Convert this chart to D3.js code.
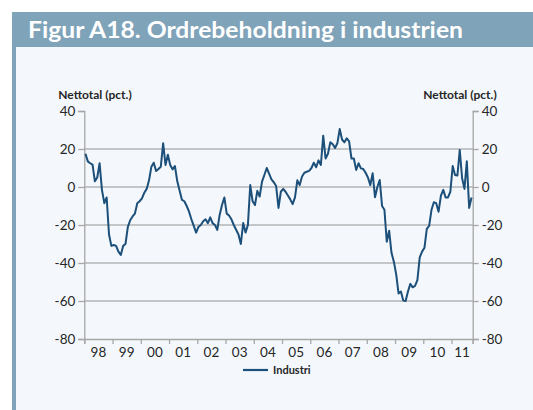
<!DOCTYPE html>
<html>
<head>
<meta charset="utf-8">
<script src="https://cdn.jsdelivr.net/npm/d3@7"></script>
<style>
  html, body { margin: 0; padding: 0; background: #ffffff; }
  svg { display: block; }
</style>
</head>
<body>
<svg id="chart" width="533" height="410"></svg>
<script>
// Ordrebeholdning i industrien, nettotal (pct.), monthly from January 1998
const startYear = 1998;
const yearLabels = ["98","99","00","01","02","03","04","05","06","07","08","09","10","11"];
const yTicks = [-80, -60, -40, -20, 0, 20, 40];
const seriesName = "Industri";
const industri = [
  17.5, 13.5, 12.5, 11.8, 3, 5, 12.5, -1.5, -8.5, -5.5, -25, -31,
  -30.5, -31, -34, -35.8, -31, -30, -21, -17.5, -15.5, -14, -8.6, -7.5,
  -6, -3, -1, 3.5, 10.7, 12.8, 8.4, 9.5, 10.7, 23, 11.6, 17,
  11.6, 9.3, 11, 3, -2, -6.8, -7.5, -10, -13, -17, -20.5, -24,
  -21, -20, -18, -17, -19, -16, -19, -20, -22.6, -14.7, -9.5, -5.5,
  -14, -15, -17, -20, -22.5, -25, -30, -19, -24, -20, 1, -7.5,
  -9.5, -2, -5, 2.8, 6.3, 10, 7, 4, 2.5, 0.5, -11, -2.5,
  -1, -2.5, -4.5, -6.5, -9, -5.5, 3.5, 1, 5.5, 7.5, 8, 8.5,
  10, 12.8, 10.4, 14, 11.6, 27, 15, 17.5, 23.5, 22.6, 20.5, 23,
  30.5, 25, 23.5, 25.6, 24, 15, 15, 9, 12.5, 9.8, 9.5, 7.5,
  5, 1, 7.2, -5.4, 0, 3.7, -10, -12, -28.8, -23, -34.6, -39.3,
  -46, -56, -55, -59.8, -60, -55, -51, -52.8, -52, -49, -37, -34,
  -32, -22, -20.5, -12, -8, -8.5, -13, -4.5, -1.5, -5.5, -5.5, -2.5,
  11, 6.3, 6, 19.5, 4.6, -1, 13.5, -11, -5.5
];

const svg = d3.select("#chart");
const W = 533, H = 410;
const font = "Lato, 'Open Sans', sans-serif";
const textCol = "#262626";

// frame: title band, left strip and light panel
svg.append("rect").attr("x", 0).attr("y", 0).attr("width", W).attr("height", H).attr("fill", "#ffffff");
svg.append("rect").attr("x", 12).attr("y", 47).attr("width", W - 12).attr("height", H - 47).attr("fill", "#f4f8fc");
svg.append("rect").attr("x", 12).attr("y", 12).attr("width", W - 12).attr("height", 35).attr("fill", "#7fa3b9");
svg.append("rect").attr("x", 12).attr("y", 47).attr("width", 4).attr("height", H - 47).attr("fill", "#7fa3b9");
svg.append("text")
  .attr("x", 28).attr("y", 38)
  .attr("fill", "#ffffff")
  .attr("font-family", font)
  .attr("font-weight", "bold")
  .attr("font-size", 22)
  .attr("textLength", 435)
  .attr("lengthAdjust", "spacingAndGlyphs")
  .text("Figur A18. Ordrebeholdning i industrien");

// plot geometry
const plotLeft = 84.3, plotRight = 472.7, plotTop = 111, plotBottom = 339;
const nMonths = industri.length;
const x = d3.scaleLinear().domain([0, nMonths]).range([plotLeft, plotRight]);
const y = d3.scaleLinear().domain([-80, 40]).range([plotBottom, plotTop]);
const fmt = d => String(d); // plain hyphen-minus for negatives

// gridlines
svg.append("g")
  .selectAll("line")
  .data(yTicks.filter(v => v > -80 && v < 40))
  .join("line")
  .attr("x1", plotLeft).attr("x2", plotRight)
  .attr("y1", d => y(d)).attr("y2", d => y(d))
  .attr("stroke", "#b5b5b5").attr("stroke-width", 1.3);

// left axis
const yAxisL = svg.append("g")
  .attr("transform", `translate(${plotLeft},0)`)
  .call(d3.axisLeft(y).tickValues(yTicks).tickSize(6).tickPadding(3).tickFormat(fmt));
// right axis
const yAxisR = svg.append("g")
  .attr("transform", `translate(${plotRight},0)`)
  .call(d3.axisRight(y).tickValues(yTicks).tickSize(6).tickPadding(3).tickFormat(fmt));
[yAxisL, yAxisR].forEach(g => {
  g.select(".domain").attr("stroke", "#a6a6a6").attr("stroke-width", 1.3);
  g.selectAll(".tick line").attr("stroke", "#a6a6a6").attr("stroke-width", 1.3);
  g.selectAll(".tick text")
    .attr("font-family", font).attr("font-size", 13.5).attr("fill", textCol);
});

// bottom axis: ticks at year boundaries, labels centred in each year
const yearBounds = d3.range(0, nMonths, 12).concat([nMonths]);
const xAxis = svg.append("g")
  .attr("transform", `translate(0,${plotBottom})`)
  .call(d3.axisBottom(x).tickValues(yearBounds).tickSize(5).tickFormat(""));
xAxis.select(".domain").attr("stroke", "#a6a6a6").attr("stroke-width", 1.3);
xAxis.selectAll(".tick line").attr("stroke", "#a6a6a6").attr("stroke-width", 1.3);

svg.append("g")
  .selectAll("text")
  .data(yearLabels)
  .join("text")
  .attr("x", (d, i) => x((i * 12 + Math.min(i * 12 + 12, nMonths)) / 2))
  .attr("y", plotBottom + 18)
  .attr("text-anchor", "middle")
  .attr("font-family", font).attr("font-size", 13.5).attr("fill", textCol)
  .text(d => d);

// axis titles
svg.append("text")
  .attr("x", 95).attr("y", 99).attr("text-anchor", "middle")
  .attr("font-family", font).attr("font-weight", "bold").attr("font-size", 12).attr("fill", textCol)
  .text("Nettotal (pct.)");
svg.append("text")
  .attr("x", 460).attr("y", 99).attr("text-anchor", "middle")
  .attr("font-family", font).attr("font-weight", "bold").attr("font-size", 12).attr("fill", textCol)
  .text("Nettotal (pct.)");

// series line
const lineColor = "#1c4f79";
const line = d3.line()
  .x((d, i) => x(i + 0.5))
  .y(d => y(d));
svg.append("path")
  .datum(industri)
  .attr("fill", "none")
  .attr("stroke", lineColor)
  .attr("stroke-width", 2)
  .attr("stroke-linejoin", "round")
  .attr("d", line);

// legend
svg.append("line")
  .attr("x1", 243).attr("x2", 268).attr("y1", 370).attr("y2", 370)
  .attr("stroke", lineColor).attr("stroke-width", 2.2);
svg.append("text")
  .attr("x", 273).attr("y", 374)
  .attr("font-family", font).attr("font-weight", "bold").attr("font-size", 11).attr("fill", textCol)
  .text(seriesName);
</script>
</body>
</html>
